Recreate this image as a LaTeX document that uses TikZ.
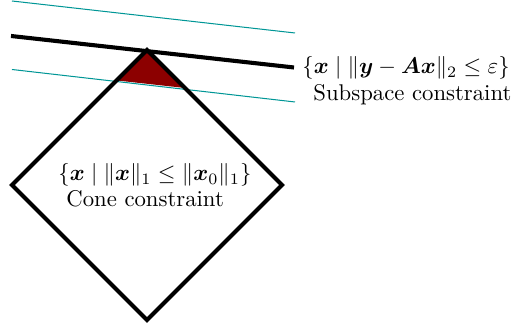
\documentclass[tikz,border=0pt]{standalone}
\usepackage{amsmath,bm}
\definecolor{tealline}{RGB}{0,150,150}
\definecolor{conered}{RGB}{140,0,0}
\begin{document}
\begin{tikzpicture}[x=0.44pt,y=-0.44pt,
  thickline/.style={line width=1.8pt},
  thinline/.style={tealline,line width=0.45pt},
  lbl/.style={inner sep=0pt,anchor=west}]
\useasboundingbox (0,0) rectangle (512,326);
\coordinate (T) at (147,50);
\coordinate (L) at (12,185);
\coordinate (R) at (282,185);
\coordinate (B) at (147,320);
\coordinate (P) at (117,80.5);
\coordinate (Q) at (185,88);
\fill[conered] (T) -- (P) -- (Q) -- cycle;
\draw[thinline] (12,1) coordinate (u1) -- (295,33) coordinate (u2);
\draw[thinline] (12,69.5) coordinate (d1) -- (295,102) coordinate (d2);
\draw[thickline] (11,36) coordinate (k1) -- (294,67.5) coordinate (k2);
\draw[thickline,line join=miter] (T) -- (R) -- (B) -- (L) -- cycle;
\node[lbl] (sub) at (302,68) {$\{\bm{x}\mid\|\bm{y}-\bm{A}\bm{x}\|_2\le\varepsilon\}$};
\node[lbl] (subt) at (313,95) {Subspace constraint};
\node[lbl] (cone) at (58,175) {$\{\bm{x}\mid\|\bm{x}\|_1\le\|\bm{x}_0\|_1\}$};
\node[lbl] (conet) at (66,199) {Cone constraint};
\end{tikzpicture}
\end{document}
